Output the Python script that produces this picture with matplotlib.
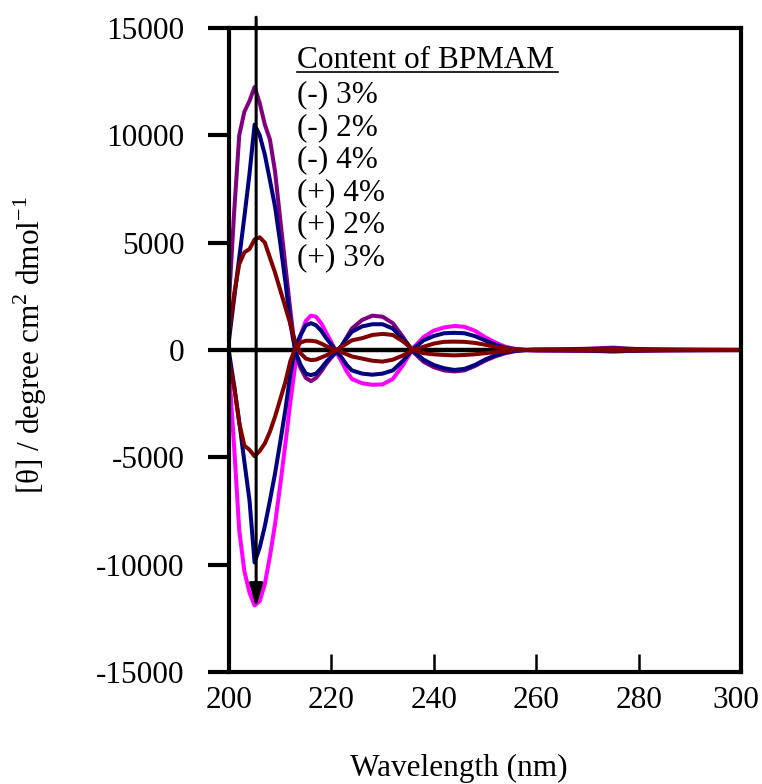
import matplotlib
matplotlib.use("Agg")
import matplotlib.pyplot as plt
from matplotlib.transforms import ScaledTranslation

# CD spectra of polymers with different BPMAM content
wavelength = [200, 201, 202, 203, 204, 205, 206, 207, 208, 209, 210, 211, 212, 213,
              214, 215, 216, 217, 218, 219, 220, 221, 222, 223, 224, 226, 228, 230,
              232, 234, 236, 238, 240, 242, 244, 246, 248, 250, 252, 254, 256, 258,
              260, 265, 270, 275, 280, 285, 290, 295, 300]

minus_3 = [2300, 6400, 10000, 11100, 11600, 12250, 11500, 10500, 9800, 8300, 6100, 3950, 1800, -200,
           -850, -1300, -1450, -1300, -1000, -650, -350, -100, 200, 600, 1000, 1400, 1600, 1550,
           1250, 600, -100, -550, -800, -950, -1000, -950, -750, -500, -300, -150, -50, 0,
           20, 30, 60, 110, 40, 20, 10, 10, 0]
minus_2 = [470, 2400, 4300, 6200, 8200, 10500, 10000, 9100, 7900, 6670, 5000, 3200, 1200, -100,
           -700, -1100, -1170, -1100, -850, -550, -300, -50, 200, 550, 850, 1100, 1200, 1200,
           1000, 500, -50, -450, -700, -850, -930, -880, -700, -450, -250, -100, -30, 0,
           10, 20, 30, 60, 30, 10, 10, 0, 0]
minus_4 = [800, 2600, 4000, 4550, 4700, 5150, 5250, 5000, 4300, 3600, 2800, 2000, 1200, 300,
           -150, -400, -470, -450, -350, -250, -120, 0, 150, 300, 450, 550, 700, 750,
           700, 400, 0, -150, -200, -230, -250, -230, -200, -150, -100, -50, 0, 0,
           10, 10, 20, 30, 20, 10, 0, 0, 0]
plus_4 = [-470, -1700, -3400, -4450, -4650, -4950, -4700, -4350, -3800, -3100, -2300, -1500, -500, 100,
          350, 430, 430, 400, 300, 180, 80, 0, -100, -200, -300, -400, -500, -540,
          -450, -250, 0, 150, 300, 380, 390, 380, 330, 250, 150, 80, 30, 0,
          -10, -10, -20, -30, -20, -10, 0, 0, 0]
plus_2 = [-100, -1650, -3350, -5200, -7000, -9900, -9200, -8200, -7000, -5740, -4300, -2800, -1100, 200,
          700, 1150, 1250, 1150, 900, 550, 250, -50, -350, -700, -950, -1100, -1150, -1100,
          -950, -500, 50, 450, 650, 780, 800, 780, 650, 450, 250, 100, 30, 0,
          -10, -20, -30, -60, -30, -10, -10, 0, 0]
plus_3 = [-900, -4500, -8400, -10300, -11300, -11900, -11700, -10900, -9600, -8100, -6300, -4400, -2400, -600,
          700, 1350, 1600, 1550, 1250, 800, 350, -100, -550, -1000, -1350, -1550, -1620, -1600,
          -1350, -700, 100, 600, 900, 1050, 1120, 1080, 900, 600, 350, 150, 50, 0,
          -20, -30, -40, -70, -30, -20, -10, -10, 0]

legend_title = "Content of BPMAM"
legend_labels = ["(-) 3%", "(-) 2%", "(-) 4%", "(+) 4%", "(+) 2%", "(+) 3%"]
x_ticks = [200, 220, 240, 260, 280, 300]
y_ticks = [-15000, -10000, -5000, 0, 5000, 10000, 15000]
arrow_x = 205.3
arrow_top = 15500
arrow_bottom = -12000

plt.rcParams['font.family'] = ['Liberation Serif', 'DejaVu Serif']
plt.rcParams['mathtext.fontset'] = 'custom'
plt.rcParams['mathtext.rm'] = 'Liberation Serif'
plt.rcParams['axes.unicode_minus'] = False

W, H = 762, 784
fig = plt.figure(figsize=(W / 100, H / 100), dpi=100)
ax = fig.add_axes([229 / W, 1 - 672 / H, (741 - 229) / W, (672 - 28) / H])

ax.axhline(0, color='black', lw=3.2, zorder=1)

series = [
    (plus_3, '#FF00FF'),
    (minus_3, '#800080'),
    (minus_2, '#000080'),
    (plus_2, '#000080'),
    (minus_4, '#800000'),
    (plus_4, '#800000'),
]
for vals, col in series:
    ax.plot(wavelength, vals, color=col, lw=2.9, zorder=2,
            solid_joinstyle='round', solid_capstyle='round')

ax.annotate('', xy=(arrow_x, arrow_bottom), xytext=(arrow_x, arrow_top),
            xycoords='data', textcoords='data', annotation_clip=False,
            arrowprops=dict(arrowstyle='-|>,head_length=1.4,head_width=0.4',
                            color='black', lw=2.2, shrinkA=0, shrinkB=0),
            zorder=5)

ax.set_xlim(200, 300)
ax.set_ylim(-15000, 15000)
ax.set_xticks(x_ticks)
ax.set_yticks(y_ticks)
ax.tick_params(axis='x', direction='in', length=13, width=1.8, labelsize=22.5, pad=10)
ax.tick_params(axis='y', direction='out', length=15, width=3, labelsize=22.5, pad=17)
for s in ax.spines.values():
    s.set_linewidth(3)

# keep the last x tick label inside the canvas
last = ax.get_xticklabels()[-1]
last.set_transform(last.get_transform() + ScaledTranslation(-5 / 100, 0, fig.dpi_scale_trans))

fig.text(459 / W, 1 - 768 / H, 'Wavelength (nm)', fontsize=22.5, ha='center', va='center')
fig.text(30 / W, 1 - 345 / H, r'[θ] / degree cm$^{2}$ dmol$^{\mathrm{-1}}$', fontsize=22.5,
         ha='center', va='center', rotation=90)

# legend block drawn as plain text entries
tx = (297 - 229) / (741 - 229)
def ypos(py):
    return (672 - py) / (672 - 28)
ax.text(tx, ypos(61), legend_title, transform=ax.transAxes, fontsize=22.5,
        va='center', ha='left')
ax.plot([tx, tx + (558 - 297) / 512], [ypos(72), ypos(72)], transform=ax.transAxes,
        color='black', lw=1.2, clip_on=False)
for i, lab in enumerate(legend_labels):
    ax.text(tx, ypos(95 + 32.5 * i), lab, transform=ax.transAxes, fontsize=22.5,
            va='center', ha='left')

fig.savefig('out.png', dpi=100)
